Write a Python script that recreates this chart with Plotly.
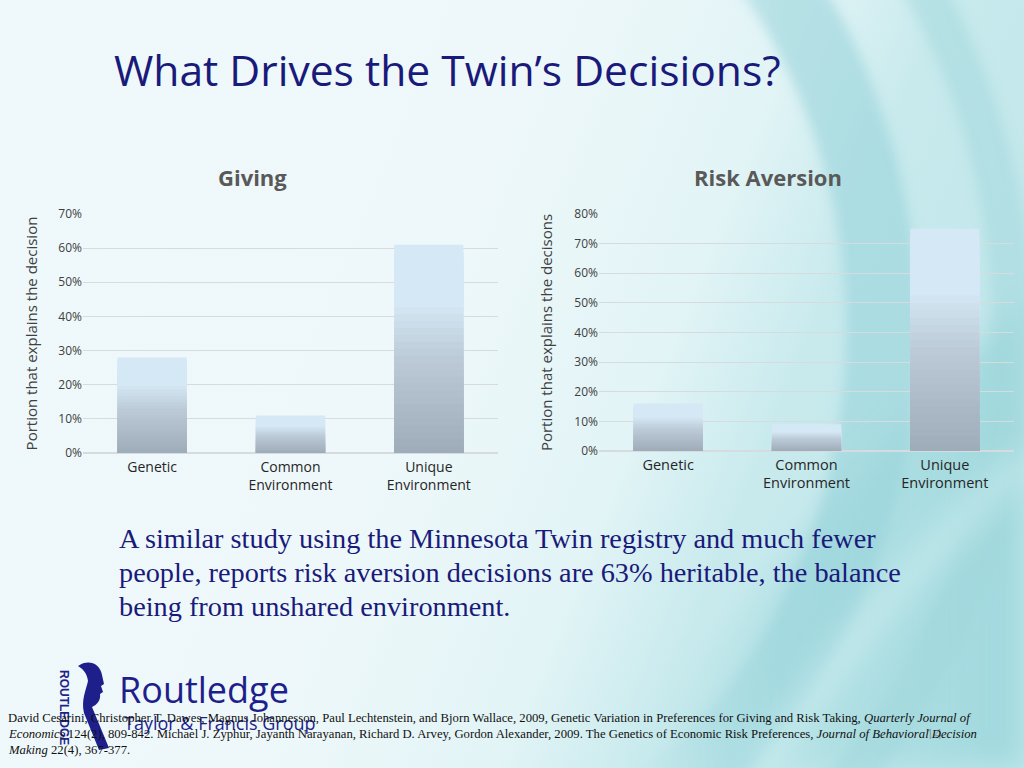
import base64
import plotly.graph_objects as go

# ---------------- data ----------------
categories = ["Genetic", "Common<br>Environment", "Unique<br>Environment"]
giving_values = [28, 11, 61]
risk_values = [16, 9, 75]
giving_ticks = [0, 10, 20, 30, 40, 50, 60, 70]
risk_ticks = [0, 10, 20, 30, 40, 50, 60, 70, 80]

W, H = 1024, 768
NAVY = "#1a1a7a"


def px(x):
    return x / W


def py(y):
    return 1 - y / H


# ---------------- background (decorative svg) ----------------
svg = f"""<svg xmlns='http://www.w3.org/2000/svg' width='{W}' height='{H}' viewBox='0 0 {W} {H}'>
<defs>
<linearGradient id='bg' x1='0' y1='0' x2='1' y2='0.3'>
<stop offset='0' stop-color='#eff9fb'/>
<stop offset='0.5' stop-color='#eef8fa'/>
<stop offset='0.72' stop-color='#e2f4f6'/>
<stop offset='0.85' stop-color='#c8eaed'/>
<stop offset='1' stop-color='#c2e7eb'/>
</linearGradient>
<linearGradient id='low' x1='0' y1='0' x2='1' y2='0'>
<stop offset='0' stop-color='#a9dde1' stop-opacity='0'/>
<stop offset='0.35' stop-color='#a9dde1' stop-opacity='0.55'/>
<stop offset='1' stop-color='#9ad6db' stop-opacity='0.85'/>
</linearGradient>
<linearGradient id='fade' x1='0' y1='0' x2='{W}' y2='0' gradientUnits='userSpaceOnUse'>
<stop offset='0.62' stop-color='white' stop-opacity='0'/>
<stop offset='0.76' stop-color='white' stop-opacity='1'/>
</linearGradient>
<mask id='rmask' maskUnits='userSpaceOnUse' x='0' y='0' width='{W}' height='{H}'>
<rect x='0' y='0' width='{W}' height='{H}' fill='url(#fade)'/>
</mask>
<filter id='blur'><feGaussianBlur stdDeviation='6'/></filter>
<filter id='blur2'><feGaussianBlur stdDeviation='14'/></filter>
</defs>
<rect width='{W}' height='{H}' fill='url(#bg)'/>
<path d='M 640 768 C 760 560, 900 430, 1024 300 L 1024 768 Z' fill='url(#low)' filter='url(#blur2)'/>
<g mask='url(#rmask)'>
<ellipse cx='400' cy='330' rx='482' ry='560' fill='none' stroke='#97d4da' stroke-opacity='0.6' stroke-width='72' filter='url(#blur)'/>
<ellipse cx='420' cy='330' rx='592' ry='650' fill='none' stroke='#9fd7dc' stroke-opacity='0.5' stroke-width='40' filter='url(#blur)'/>
</g>
<path d='M 760 768 C 860 620, 960 520, 1024 460' fill='none' stroke='#d8f1f3' stroke-opacity='0.45' stroke-width='30' filter='url(#blur2)'/>
<path d='M 78 666 C 88 659, 100 663, 102 675 L 104 684 L 101 686 L 103 692 L 100 694 C 101 700, 97 705, 92 707 L 109 748 L 99 750 L 84 713 C 81 700, 86 690, 88 681 C 87 673, 83 669, 78 666 Z' fill='#1f1f8c'/>
</svg>"""
bg_uri = "data:image/svg+xml;base64," + base64.b64encode(svg.encode()).decode()

fig = go.Figure()


# ---------------- bars (stepped vertical gradient via overlaid bars) ----------------
def lerp(c1, c2, t):
    a = [int(c1[i:i + 2], 16) for i in (1, 3, 5)]
    b = [int(c2[i:i + 2], 16) for i in (1, 3, 5)]
    return "#%02x%02x%02x" % tuple(round(a[k] + (b[k] - a[k]) * t) for k in range(3))


def grad_color(f):
    # f = fraction of bar height measured from the bottom
    top, mid, bot = "#d5e8f5", "#bccad7", "#9eacb9"
    if f >= 0.72:
        return top
    if f >= 0.45:
        return lerp(mid, top, (f - 0.45) / 0.27)
    return lerp(bot, mid, f / 0.45)


N = 30
for values, xa, ya in [(giving_values, "x", "y"), (risk_values, "x2", "y2")]:
    for i in range(N):
        frac = (N - i) / N
        fig.add_trace(go.Bar(
            x=categories,
            y=[v * frac for v in values],
            xaxis=xa, yaxis=ya,
            marker=dict(color=grad_color(frac - 0.5 / N), line=dict(width=0)),
            showlegend=False,
            hoverinfo="skip" if i else "x+y",
        ))

axis_font = dict(family="Open Sans", size=12, color="#404040")
title_font = dict(family="Open Sans", size=15, color="#404040")

common_y = dict(gridcolor="#d6dbdd", gridwidth=1, zeroline=True, zerolinecolor="#d6dbdd",
                zerolinewidth=1.5, showline=False, ticks="", automargin=False,
                tickmode="array", tickfont=axis_font, fixedrange=True)
common_x = dict(showgrid=False, showline=False, ticks="", fixedrange=True, automargin=False)

fig.update_layout(
    template="none",
    width=W, height=H,
    margin=dict(l=0, r=0, t=0, b=0, pad=0, autoexpand=False),
    paper_bgcolor="#eef8fb",
    plot_bgcolor="rgba(0,0,0,0)",
    barmode="overlay",
    bargap=0.5,
    showlegend=False,
    xaxis=dict(domain=[px(83), px(498)], anchor="y", ticklabelstandoff=4,
               tickfont=dict(family="Open Sans", size=14, color="#262626"), **common_x),
    yaxis=dict(domain=[py(453), py(214)], anchor="x", range=[0, 70],
               tickvals=giving_ticks, ticktext=[f"{v}%" for v in giving_ticks],
               title=dict(text="Portion that explains the decision", font=title_font, standoff=17),
               **common_y),
    xaxis2=dict(domain=[px(599), px(1014)], anchor="y2", ticklabelstandoff=3,
                tickfont=dict(family="Open Sans", size=14.5, color="#262626"), **common_x),
    yaxis2=dict(domain=[py(451), py(214)], anchor="x2", range=[0, 80],
                tickvals=risk_ticks, ticktext=[f"{v}%" for v in risk_ticks],
                title=dict(text="Portion that explains the decisons", font=title_font, standoff=18),
                **common_y),
    images=[dict(source=bg_uri, xref="paper", yref="paper", x=0, y=1,
                 sizex=1, sizey=1, sizing="stretch", layer="below",
                 xanchor="left", yanchor="top")],
)

ann = []


def text(x, y, s, size, color, family, xanchor="left", **kw):
    ann.append(dict(x=px(x), y=py(y), xref="paper", yref="paper", text=s,
                    showarrow=False, xanchor=xanchor, yanchor="middle",
                    font=dict(size=size, color=color, family=family), **kw))


# slide title
text(112, 69, "What Drives the Twin’s Decisions?", 42.6, NAVY, "Open Sans")
# chart titles
text(252, 177, "<b>Giving</b>", 22, "#595959", "Open Sans", xanchor="center")
text(768, 177, "<b>Risk Aversion</b>", 22, "#595959", "Open Sans", xanchor="center")
# body text
body = ["A similar study using the Minnesota Twin registry and much fewer",
        "people, reports risk aversion decisions are 63% heritable, the balance",
        "being from unshared environment."]
for k, line in enumerate(body):
    text(117, 538 + 34 * k, line, 28.3, NAVY, "Liberation Serif")
# logo
text(64, 707, "<b>ROUTLEDGE</b>", 12, "#1f1f8c", "Liberation Sans", xanchor="center", textangle=90)
text(117, 689, "Routledge", 36, "#1f1f8c", "Open Sans")
text(122, 723, "Taylor &amp; Francis Group", 18, "#1f1f8c", "Open Sans")
# page number
text(934, 733, "14", 14, "#8a9a9e", "Open Sans", xanchor="center")
# references
refs = [
    "David Cesarini, Christopher T. Dawes, Magnus Johannesson, Paul Lechtenstein, and Bjorn Wallace, 2009, Genetic Variation in Preferences for Giving and Risk Taking, <i>Quarterly Journal of</i>",
    "<i>Economics</i> 124(2), 809-842. Michael J. Zyphur, Jayanth Narayanan, Richard D. Arvey, Gordon Alexander, 2009. The Genetics of Economic Risk Preferences, <i>Journal of Behavioral Decision</i>",
    "<i>Making</i> 22(4), 367-377.",
]
for k, line in enumerate(refs):
    text(6, 718 + 16 * k, line, 12.7, "#111111", "Liberation Serif")

fig.update_layout(annotations=ann)
fig.write_html(
    "out.html",
    config={"displayModeBar": False},
    post_script="document.body.style.margin='0';document.body.style.overflow='hidden';",
)
